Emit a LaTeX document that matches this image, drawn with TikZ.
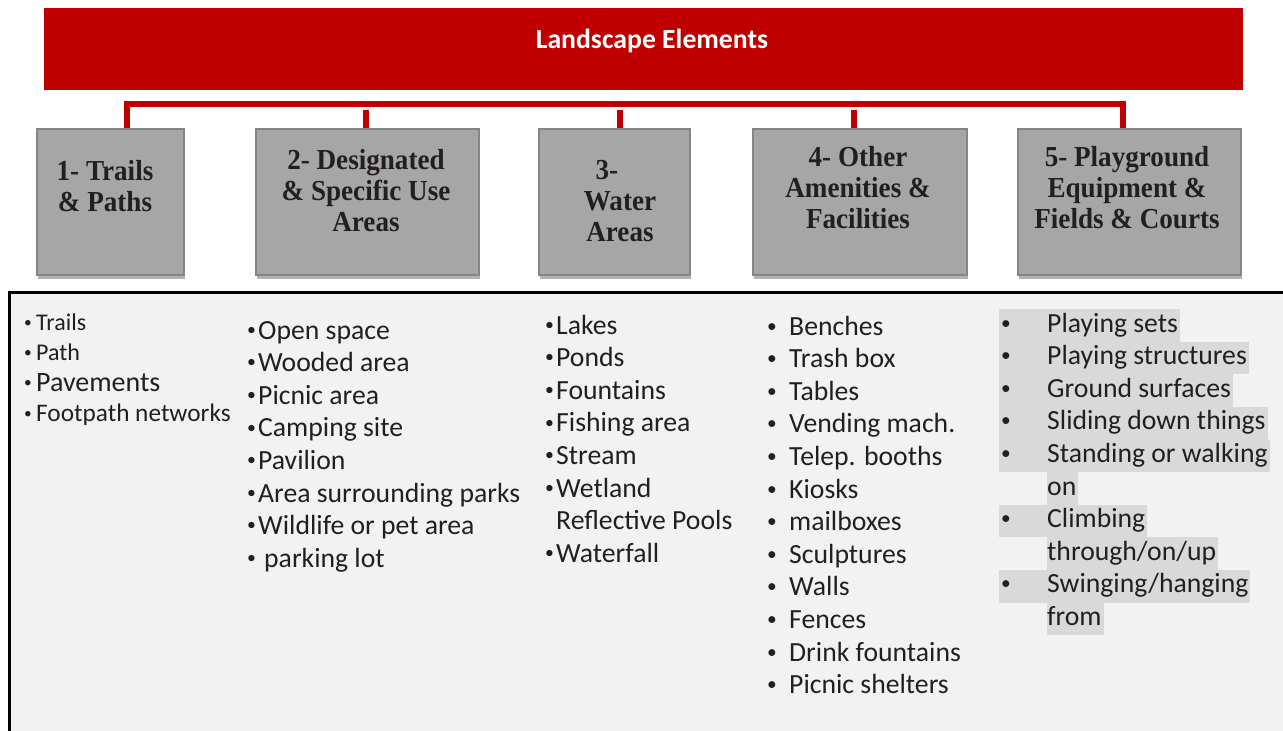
\documentclass[tikz,border=0pt]{standalone}
\usepackage{fontspec}
\setmainfont{Carlito}
\newfontfamily\hdfont[FakeStretch=0.935]{Liberation Serif}
\usetikzlibrary{shadows}
\definecolor{barred}{HTML}{C00000}
\definecolor{boxgray}{HTML}{A6A6A6}
\definecolor{boxedge}{HTML}{858585}
\definecolor{panelgray}{HTML}{F2F2F2}
\definecolor{markgray}{HTML}{D9D9D9}
\definecolor{inkdark}{HTML}{231F20}
\tikzstyle{bar}=[fill=barred, inner sep=0pt, minimum width=1199pt, minimum height=82pt]
\tikzstyle{group}=[draw=boxedge, line width=2pt, fill=boxgray, minimum height=146pt, inner sep=0pt, general shadow={fill=black!30, shadow yshift=-4pt, shadow xshift=1pt}]
\tikzstyle{grouptext}=[align=center, inner sep=0pt, anchor=north, text=inkdark, font=\hdfont\bfseries\fontsize{29}{31}\selectfont]
\tikzstyle{link}=[draw=barred, line width=6pt]
\tikzstyle{items}=[align=left, inner sep=0pt, anchor=north west, text=inkdark, font=\fontsize{27.7}{32.6}\selectfont]
\newcommand{\itemstrut}{\rule[-0.3\baselineskip]{0pt}{\baselineskip}}
\newcommand{\smallbul}{\raisebox{0.28ex}{\scalebox{0.64}{\textbullet}}}
\newcommand{\midbul}{\raisebox{0.22ex}{\scalebox{0.7}{\textbullet}}}
\newcommand{\bul}[2]{\itemstrut\makebox[#1pt][l]{\smallbul}#2}
\newcommand{\tabbul}[2]{\itemstrut\makebox[#1pt][l]{\midbul}#2}
\newcommand{\hl}[1]{{\setlength{\fboxsep}{0pt}\colorbox{markgray}{\itemstrut#1\hspace*{2pt}}}}

\begin{document}
\begin{tikzpicture}[x=1pt, y=-1pt]
    \clip (0,0) rectangle (1283,731);
    % lower panel
    \draw[line width=3pt, fill=panelgray] (9,292) rectangle (1300,745);
    \node[bar] (top) at (643.5,49) {};
    \node[font=\bfseries\fontsize{27.7}{30}\selectfont, text=white] (title) at (652,41) {Landscape Elements};

    \node[group, minimum width=147pt] (b1) at (110.5,202) {};
    \node[group, minimum width=223pt] (b2) at (367.5,202) {};
    \node[group, minimum width=151pt] (b3) at (614.5,202) {};
    \node[group, minimum width=214pt] (b4) at (860,202) {};
    \node[group, minimum width=223pt] (b5) at (1129.5,202) {};

    \draw[link] ([xshift=16.5pt]b1.north) -- ++(0,-24) -| ([xshift=-6.5pt]b5.north);
    \foreach \b/\s in {b2/-1.5, b3/5.5, b4/-6}
        \draw[link] ([xshift=\s pt]\b.north) -- ++(0,-18);

    \node[grouptext] (t1) at (105,160.5) {1- Trails\\\& Paths};
    \node[grouptext] (t2) at (366,149.5) {2- Designated\\\& Specific Use\\Areas};
    \node[grouptext] (t3) at (620,160.5) {3-\hspace*{0.9em}\\Water\\Areas};
    \node[grouptext] (t4) at (858,146.5) {4- Other\\Amenities \&\\Facilities};
    \node[grouptext] (t5) at (1127,146.5) {5- Playground\\Equipment \&\\Fields \& Courts};

    \node[items, font=\fontsize{24}{30.3}\selectfont] (trails) at (24,309) {\bul{12}{Trails}\\\bul{12}{Path}\\\bul{12}{{\fontsize{28}{30.3}\selectfont Pavements}}\\\bul{12}{{\fontsize{25.3}{30.3}\selectfont Footpath networks}}};
    \node[items] (areas) at (247,316) {\bul{11}{Open space}\\\bul{11}{Wooded area}\\\bul{11}{Picnic area}\\\bul{11}{Camping site}\\\bul{11}{Pavilion}\\\bul{11}{Area surrounding parks}\\\bul{11}{Wildlife or pet area}\\\bul{17}{parking lot}};
    \node[items] (water) at (545,311) {\bul{11}{Lakes}\\\bul{11}{Ponds}\\\bul{11}{Fountains}\\\bul{11}{Fishing area}\\\bul{11}{Stream}\\\bul{11}{Wetland}\\\itemstrut\hspace*{11pt}Reflective Pools\\\bul{11}{Waterfall}};
    \node[items] (amenities) at (767,312) {\tabbul{22}{Benches}\\\tabbul{22}{Trash box}\\\tabbul{22}{Tables}\\\tabbul{22}{Vending mach.}\\\tabbul{22}{Telep. booths}\\\tabbul{22}{Kiosks}\\\tabbul{22}{mailboxes}\\\tabbul{22}{Sculptures}\\\tabbul{22}{Walls}\\\tabbul{22}{Fences}\\\tabbul{22}{Drink fountains}\\\tabbul{22}{Picnic shelters}};
    \node[items] (play) at (999,309) {\hl{\hspace*{2pt}\makebox[46pt][l]{\midbul}Playing sets}\\\hl{\hspace*{2pt}\makebox[46pt][l]{\midbul}Playing structures}\\\hl{\hspace*{2pt}\makebox[46pt][l]{\midbul}Ground surfaces}\\\hl{\hspace*{2pt}\makebox[46pt][l]{\midbul}Sliding down things}\\\hl{\hspace*{2pt}\makebox[46pt][l]{\midbul}Standing or walking}\\\hspace*{48pt}\hl{on}\\\hl{\hspace*{2pt}\makebox[46pt][l]{\midbul}Climbing}\\\hspace*{48pt}\hl{through/on/up}\\\hl{\hspace*{2pt}\makebox[46pt][l]{\midbul}Swinging/hanging}\\\hspace*{48pt}\hl{from}};
\end{tikzpicture}
\end{document}
